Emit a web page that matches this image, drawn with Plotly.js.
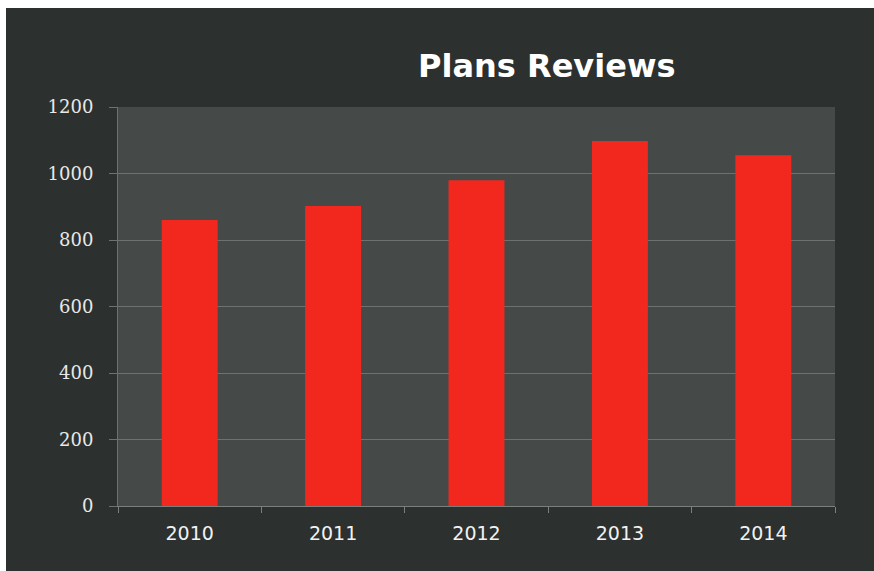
<!DOCTYPE html>
<html>
<head>
<meta charset="utf-8">
<script src="https://cdn.plot.ly/plotly-3.0.1.min.js"></script>
<style>
  html, body { margin: 0; padding: 0; background: #ffffff; width: 874px; height: 571px; overflow: hidden; }
  #chart { position: absolute; left: 6px; top: 8px; width: 868px; height: 563px; }
</style>
</head>
<body>
<div id="chart"></div>
<script>
const years = ['2010', '2011', '2012', '2013', '2014'];
const reviews = [860, 902, 980, 1098, 1055];
const yTicks = [0, 200, 400, 600, 800, 1000, 1200];

const trace = {
  type: 'bar',
  x: years,
  y: reviews,
  marker: { color: '#f2281f', line: { width: 0 } },
  hoverinfo: 'x+y'
};

const layout = {
  width: 868,
  height: 563,
  paper_bgcolor: '#2c302f',
  plot_bgcolor: '#454a48',
  margin: { l: 112, r: 39, t: 99, b: 65 },
  bargap: 0.61,
  showlegend: false,
  title: {
    text: '<b>Plans Reviews</b>',
    font: { family: '"DejaVu Sans", sans-serif', size: 32, color: '#ffffff' },
    x: 0.623, xanchor: 'center',
    y: 0.898, yanchor: 'middle'
  },
  xaxis: {
    type: 'category',
    tickfont: { family: '"DejaVu Sans", sans-serif', size: 19, color: '#f2f2f2' },
    showline: true, linecolor: '#7a7f7d', linewidth: 1,
    ticks: 'outside', tickson: 'boundaries', ticklen: 6, tickcolor: '#7a7f7d',
    showgrid: false,
    ticklabelstandoff: 10
  },
  yaxis: {
    range: [0, 1200],
    tickvals: yTicks,
    ticktext: yTicks.map(String),
    tickfont: { family: '"DejaVu Serif", serif', size: 18, color: '#e8e8e8' },
    showgrid: true, gridcolor: '#6d7270', gridwidth: 1,
    showline: true, linecolor: '#6d7270', linewidth: 1,
    ticks: 'outside', ticklen: 8, tickcolor: '#6d7270',
    zeroline: false,
    ticklabelstandoff: 12
  }
};

Plotly.newPlot('chart', [trace], layout, { displayModeBar: false, staticPlot: true });
</script>
</body>
</html>
